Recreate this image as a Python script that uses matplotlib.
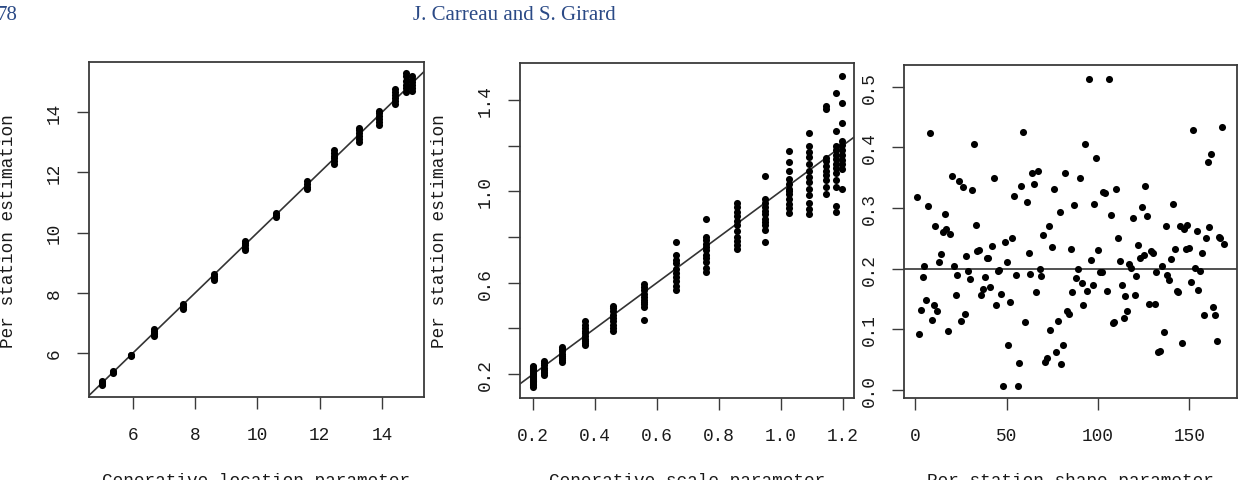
import matplotlib
matplotlib.use('Agg')
import matplotlib.pyplot as plt

# ---------------- data ----------------
loc_levels = [5.00, 5.36, 5.94, 6.69, 7.60, 8.59, 9.60, 10.60, 11.59, 12.46,
              13.25, 13.91, 14.42, 14.76, 14.95]
loc_est = [
    [4.94, 4.97, 5.00, 5.03, 5.07],
    [5.33, 5.37, 5.40],
    [5.89, 5.92, 5.95],
    [6.57, 6.62, 6.68, 6.74, 6.80],
    [7.46, 7.52, 7.58, 7.64],
    [8.42, 8.50, 8.57, 8.63],
    [9.42, 9.50, 9.58, 9.66, 9.71],
    [10.52, 10.58, 10.65],
    [11.46, 11.53, 11.62, 11.70],
    [12.29, 12.38, 12.47, 12.56, 12.66, 12.76],
    [13.02, 13.10, 13.20, 13.30, 13.40, 13.49],
    [13.58, 13.68, 13.78, 13.88, 13.97, 14.05],
    [14.28, 14.38, 14.48, 14.58, 14.68, 14.78],
    [14.68, 14.80, 14.92, 15.05, 15.20, 15.30],
    [14.70, 14.80, 14.90, 15.00, 15.12, 15.20],
]

scale_levels = [0.200, 0.236, 0.293, 0.368, 0.459, 0.559, 0.660, 0.760, 0.859,
                0.949, 1.027, 1.093, 1.145, 1.178, 1.197]
scale_est = [
    [0.142, 0.15, 0.157, 0.163, 0.168, 0.174, 0.178, 0.184, 0.19, 0.196,
     0.201, 0.205, 0.212, 0.216, 0.221, 0.226, 0.232, 0.236, 0.17, 0.187],
    [0.195, 0.204, 0.211, 0.219, 0.228, 0.241, 0.249, 0.258],
    [0.252, 0.263, 0.27, 0.281, 0.289, 0.301, 0.309, 0.317],
    [0.325, 0.334, 0.346, 0.355, 0.366, 0.381, 0.39, 0.402, 0.414, 0.432],
    [0.39, 0.401, 0.414, 0.431, 0.446, 0.459, 0.476, 0.489, 0.50],
    [0.437, 0.495, 0.506, 0.514, 0.526, 0.539, 0.551, 0.566, 0.579, 0.594],
    [0.566, 0.586, 0.609, 0.626, 0.641, 0.658, 0.684, 0.701, 0.722, 0.776],
    [0.645, 0.666, 0.689, 0.706, 0.721, 0.741, 0.755, 0.771, 0.786, 0.80, 0.877],
    [0.747, 0.766, 0.781, 0.802, 0.826, 0.851, 0.869, 0.892, 0.909, 0.931, 0.95],
    [0.778, 0.83, 0.851, 0.866, 0.88, 0.899, 0.916, 0.931, 0.949, 0.968, 1.067],
    [0.905, 0.926, 0.944, 0.966, 0.989, 1.001, 1.012, 1.031, 1.052, 1.091, 1.13, 1.177],
    [0.90, 0.921, 0.951, 0.984, 1.011, 1.041, 1.061, 1.089, 1.121, 1.151, 1.171, 1.20, 1.257],
    [0.988, 1.021, 1.049, 1.071, 1.091, 1.109, 1.131, 1.147, 1.36, 1.372],
    [0.91, 0.935, 1.021, 1.051, 1.079, 1.101, 1.121, 1.141, 1.159, 1.181, 1.199, 1.264, 1.43],
    [1.01, 1.10, 1.121, 1.139, 1.161, 1.179, 1.201, 1.22, 1.30, 1.388, 1.505],
]

shape_est = [
    0.318, 0.093, 0.132, 0.186, 0.205, 0.149, 0.304, 0.423, 0.116, 0.141,
    0.271, 0.130, 0.211, 0.224, 0.260, 0.290, 0.265, 0.098, 0.258, 0.352,
    0.204, 0.157, 0.190, 0.345, 0.114, 0.334, 0.126, 0.221, 0.197, 0.183,
    0.330, 0.405, 0.272, 0.229, 0.230, 0.157, 0.167, 0.186, 0.218, 0.217,
    0.170, 0.238, 0.349, 0.141, 0.197, 0.198, 0.159, 0.006, 0.244, 0.211,
    0.075, 0.145, 0.251, 0.320, 0.189, 0.006, 0.045, 0.336, 0.426, 0.113,
    0.310, 0.226, 0.191, 0.358, 0.340, 0.161, 0.361, 0.199, 0.188, 0.256,
    0.046, 0.053, 0.270, 0.099, 0.235, 0.332, 0.062, 0.114, 0.294, 0.043,
    0.075, 0.357, 0.130, 0.126, 0.232, 0.162, 0.305, 0.184, 0.199, 0.350,
    0.177, 0.141, 0.405, 0.164, 0.513, 0.214, 0.173, 0.307, 0.383, 0.230,
    0.195, 0.194, 0.327, 0.325, 0.163, 0.513, 0.288, 0.111, 0.113, 0.332,
    0.251, 0.212, 0.173, 0.118, 0.155, 0.131, 0.207, 0.201, 0.283, 0.157,
    0.188, 0.239, 0.218, 0.302, 0.222, 0.336, 0.287, 0.142, 0.229, 0.226,
    0.142, 0.195, 0.063, 0.065, 0.204, 0.096, 0.271, 0.190, 0.182, 0.216,
    0.307, 0.232, 0.164, 0.162, 0.271, 0.078, 0.265, 0.232, 0.272, 0.234,
    0.178, 0.429, 0.201, 0.262, 0.165, 0.196, 0.226, 0.123, 0.251, 0.375,
    0.268, 0.389, 0.137, 0.123, 0.081, 0.252, 0.250, 0.433, 0.241,
]
shape_true = 0.2

loc_xticks = [6, 8, 10, 12, 14]
loc_yticks = [6, 8, 10, 12, 14]
scale_xticks = [0.2, 0.4, 0.6, 0.8, 1.0, 1.2]
scale_xticklabels = ['0.2', '0.4', '0.6', '0.8', '1.0', '1.2']
scale_yticks = [0.2, 0.4, 0.6, 0.8, 1.0, 1.2, 1.4]
scale_yticklabels = ['0.2', '', '0.6', '', '1.0', '', '1.4']
shape_xticks = [0, 50, 100, 150]
shape_yticks = [0.0, 0.1, 0.2, 0.3, 0.4, 0.5]
shape_yticklabels = ['0.0', '0.1', '0.2', '0.3', '0.4', '0.5']

xlabels = ['Generative location parameter', 'Generative scale parameter',
           'Per station shape parameter']
ylabel = 'Per station estimation'
header_author = 'J. Carreau and S. Girard'
header_page = '78'

# ---------------- figure ----------------
W, H = 1240, 481
fig = plt.figure(figsize=(W / 100, H / 100), dpi=100)
fig.patch.set_facecolor('white')

MONO = 'Liberation Mono'
FS = 12.8
txt_col = '#1a1a1a'
frame_col = '#3a3a3a'
pt_size = 26


def box(l, r, t, b):
    return [l / W, (H - b) / H, (r - l) / W, (b - t) / H]


ax1 = fig.add_axes(box(89, 424, 63, 398))
ax2 = fig.add_axes(box(520, 854, 64, 399))
ax3 = fig.add_axes(box(904, 1237, 66, 399))

# panel 1
xs, ys = [], []
for lv, vals in zip(loc_levels, loc_est):
    xs += [lv] * len(vals)
    ys += vals
ax1.scatter(xs, ys, s=pt_size, c='black', linewidths=0, zorder=3)
ax1.axline((0, 0), slope=1, color='#333333', lw=1.2, zorder=2)
ax1.set_xlim(4.59, 15.35)
ax1.set_ylim(4.54, 15.67)
ax1.set_xticks(loc_xticks)
ax1.set_xticklabels([str(v) for v in loc_xticks])
ax1.set_yticks(loc_yticks)
ax1.set_yticklabels([str(v) for v in loc_yticks])

# panel 2
xs, ys = [], []
for lv, vals in zip(scale_levels, scale_est):
    xs += [lv] * len(vals)
    ys += vals
ax2.scatter(xs, ys, s=pt_size, c='black', linewidths=0, zorder=3)
ax2.axline((0, 0), slope=1, color='#333333', lw=1.2, zorder=2)
ax2.set_xlim(0.157, 1.237)
ax2.set_ylim(0.095, 1.562)
ax2.set_xticks(scale_xticks)
ax2.set_xticklabels(scale_xticklabels)
ax2.set_yticks(scale_yticks)
ax2.set_yticklabels(scale_yticklabels)

# panel 3
idx = list(range(1, len(shape_est) + 1))
ax3.scatter(idx, shape_est, s=pt_size, c='black', linewidths=0, zorder=3)
ax3.axhline(shape_true, color='#333333', lw=1.2, zorder=2)
ax3.set_xlim(-6.2, 176.1)
ax3.set_ylim(-0.013, 0.5356)
ax3.set_xticks(shape_xticks)
ax3.set_xticklabels([str(v) for v in shape_xticks])
ax3.set_yticks(shape_yticks)
ax3.set_yticklabels(shape_yticklabels)

for ax in (ax1, ax2, ax3):
    for sp in ax.spines.values():
        sp.set_color(frame_col)
        sp.set_linewidth(1.3)
    ax.tick_params(direction='out', length=8.6, width=1.0, color=frame_col)
    ax.tick_params(axis='x', pad=12.5)
    ax.tick_params(axis='y', pad=10)
    for lbl in ax.get_xticklabels():
        lbl.set_fontfamily(MONO)
        lbl.set_fontsize(FS)
        lbl.set_color(txt_col)
    for lbl in ax.get_yticklabels():
        lbl.set_fontfamily(MONO)
        lbl.set_fontsize(FS)
        lbl.set_rotation(90)
        lbl.set_va('center')
        lbl.set_color(txt_col)

# axis labels (bottom ones are cut by the page edge, as in the source page)
centers = [(89 + 424) / 2, (520 + 854) / 2, (904 + 1237) / 2]
for cx, txt in zip(centers, xlabels):
    fig.text(cx / W, (H - 473) / H, txt, ha='center', va='top',
             fontfamily=MONO, fontsize=FS, color=txt_col)

for cx in (9, 440):
    fig.text(cx / W, (H - 231) / H, ylabel, ha='center', va='center',
             rotation=90, fontfamily=MONO, fontsize=FS, color=txt_col)

# page header
fig.text(413 / W, (H - 19.5) / H, header_author, ha='left', va='baseline',
         fontfamily='Liberation Serif', fontsize=15, color='#2b4a86')
fig.text(17 / W, (H - 19.5) / H, header_page, ha='right', va='baseline',
         fontfamily='Liberation Serif', fontsize=15, color='#2b4a86')

fig.savefig('out.png', dpi=100)
